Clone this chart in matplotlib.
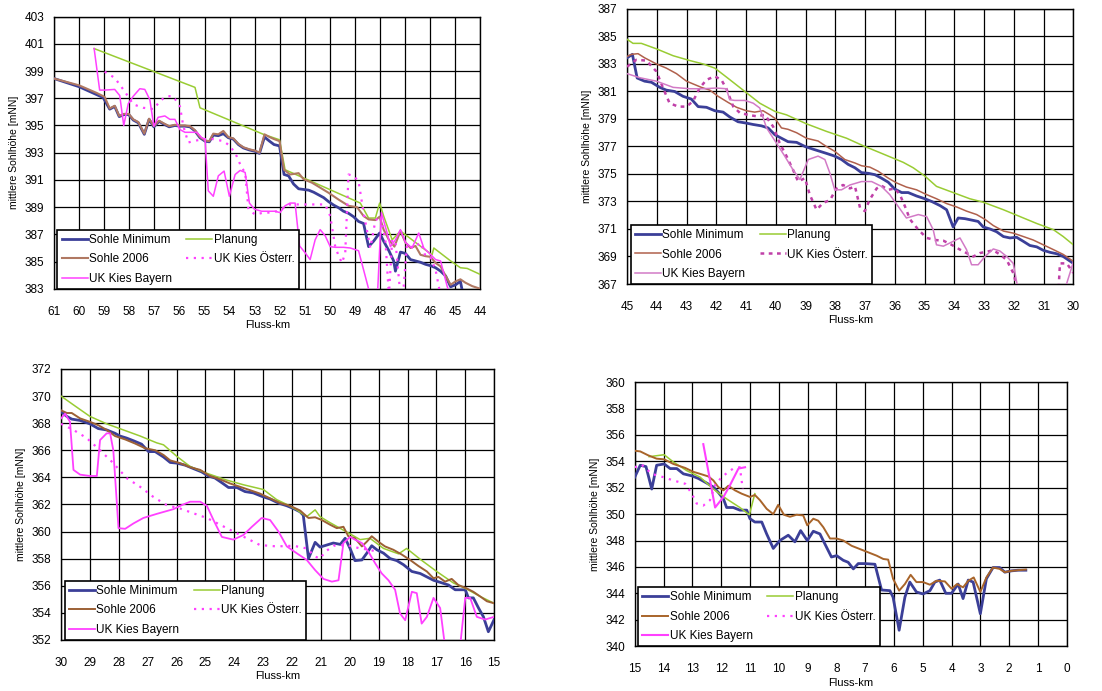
import matplotlib.pyplot as plt
import numpy as np
from matplotlib.lines import Line2D

plt.rcParams["font.family"] = ["Liberation Sans", "DejaVu Sans"]

# ---- Panel 1: km 61 - 44 ----
p1_min = [(61.0, 398.45), (60.0, 397.85), (59.04, 397.05), (58.78, 396.2), (58.58, 396.4),
          (58.40, 395.65), (58.22, 395.8), (58.02, 395.8), (57.84, 395.4), (57.64, 395.2),
          (57.40, 394.35), (57.21, 395.45), (57.02, 394.9), (56.81, 395.3), (56.62, 395.1),
          (56.41, 394.9), (56.18, 395.0), (55.98, 394.95), (55.78, 394.95), (55.58, 394.9),
          (55.38, 394.6), (55.18, 394.1), (54.98, 393.85), (54.81, 393.8), (54.65, 394.3),
          (54.45, 394.25), (54.25, 394.4), (54.05, 394.1), (53.85, 394.0), (53.65, 393.6),
          (53.45, 393.35), (53.21, 393.2), (52.98, 393.1), (52.81, 392.95), (52.61, 394.15),
          (52.41, 393.85), (52.23, 393.6), (52.01, 393.5), (51.83, 391.4), (51.65, 391.3),
          (51.45, 390.7), (51.25, 390.35), (51.05, 390.3), (50.85, 390.25), (50.65, 390.1),
          (50.45, 389.9), (50.25, 389.7), (50.05, 389.4), (49.85, 389.15), (49.65, 388.95),
          (49.46, 388.7), (49.26, 388.55), (49.06, 388.3), (48.86, 387.95), (48.66, 387.8),
          (48.46, 386.1), (48.26, 386.5), (48.02, 387.1), (47.86, 386.5), (47.65, 385.8),
          (47.46, 385.05), (47.39, 384.3), (47.19, 385.7), (46.99, 385.6), (46.79, 385.15),
          (46.59, 385.05), (46.39, 384.95), (46.19, 384.8), (45.99, 384.7), (45.79, 384.55),
          (45.59, 384.3), (45.39, 383.95), (45.19, 383.15), (44.99, 383.3), (44.80, 383.55),
          (44.73, 382.9)]
p1_2006 = [(61.0, 398.45), (60.0, 397.95), (59.31, 397.4), (58.98, 397.1), (58.78, 396.25),
           (58.58, 396.45), (58.40, 395.7), (58.22, 395.85), (58.02, 395.85), (57.84, 395.45),
           (57.64, 395.25), (57.40, 394.4), (57.21, 395.5), (57.02, 394.95), (56.81, 395.35),
           (56.62, 395.15), (56.41, 394.95), (56.18, 395.05), (55.98, 395.0), (55.78, 395.0),
           (55.58, 394.95), (55.38, 394.65), (55.18, 394.15), (54.98, 393.9), (54.81, 393.85),
           (54.65, 394.4), (54.45, 394.35), (54.25, 394.6), (54.05, 394.15), (53.85, 394.05),
           (53.65, 393.65), (53.45, 393.4), (53.21, 393.25), (52.98, 393.15), (52.81, 393.0),
           (52.61, 394.35), (52.41, 394.15), (52.23, 394.0), (52.01, 393.85), (51.83, 391.75),
           (51.59, 391.4), (51.25, 391.5), (51.05, 391.05), (50.72, 390.8), (50.45, 390.5),
           (50.05, 390.05), (49.65, 389.55), (49.26, 389.1), (48.92, 389.0), (48.66, 388.35),
           (48.46, 388.1), (48.19, 388.05), (48.02, 388.3), (47.86, 387.35), (47.65, 386.6),
           (47.43, 386.1), (47.19, 387.25), (46.99, 386.4), (46.79, 386.0), (46.59, 386.15),
           (46.39, 385.5), (46.19, 385.4), (45.99, 385.35), (45.79, 384.9), (45.59, 384.65),
           (45.39, 383.95), (45.19, 383.3), (44.99, 383.55), (44.80, 383.7), (44.60, 383.45),
           (44.33, 383.2), (44.0, 383.0)]
p1_plan = [(59.4, 400.65), (55.38, 397.8), (55.18, 396.3), (52.65, 394.35), (52.01, 393.95),
           (51.79, 391.75), (48.79, 389.3), (48.46, 388.2), (48.19, 388.2), (48.02, 389.3),
           (47.86, 388.35), (47.52, 386.6), (47.19, 387.25), (46.19, 385.85), (45.93, 385.5),
           (45.86, 386.0), (45.19, 385.05), (44.80, 384.55), (44.53, 384.5), (44.0, 384.05)]
p1_bay = [(59.4, 400.65), (59.18, 397.6), (58.98, 397.6), (58.58, 397.65), (58.38, 397.2),
          (58.22, 395.0), (58.04, 396.6), (57.84, 397.15), (57.58, 397.7), (57.38, 397.65),
          (57.18, 396.9), (57.02, 394.95), (56.85, 395.6), (56.58, 395.7), (56.38, 395.45),
          (56.18, 395.45), (55.98, 394.7), (55.78, 394.5), (55.51, 394.5), (55.31, 394.5),
          (55.11, 394.1), (54.98, 394.0), (54.85, 390.2), (54.65, 389.8), (54.45, 391.3),
          (54.22, 391.65), (54.01, 389.8), (53.78, 391.4), (53.58, 391.7), (53.38, 391.55),
          (53.21, 389.3), (53.01, 388.85), (52.72, 388.7), (52.45, 388.7), (52.19, 388.7),
          (51.99, 388.6), (51.79, 389.1), (51.59, 389.3), (51.39, 389.3), (51.21, 386.15),
          (50.99, 385.65), (50.79, 385.15), (50.59, 386.6), (50.39, 387.35), (50.19, 386.9),
          (49.99, 386.1), (49.79, 386.05), (49.46, 386.05), (49.19, 386.0), (48.86, 385.8),
          (48.66, 384.4), (48.46, 383.0), (48.35, 382.0), (48.12, 382.0), (47.95, 388.6),
          (47.72, 387.1), (47.59, 386.1), (47.39, 386.6), (47.19, 387.35), (46.99, 386.4),
          (46.73, 386.0), (46.46, 387.1), (46.26, 386.0), (46.06, 385.65), (45.79, 385.15),
          (45.59, 385.05), (45.33, 383.2), (45.2, 382.5)]
p1_oes = [(58.98, 398.95), (58.58, 398.5), (58.18, 397.5), (57.84, 396.55), (57.44, 396.3),
          (57.02, 396.2), (56.78, 396.8), (56.51, 397.15), (56.25, 397.15), (55.98, 396.4),
          (55.85, 395.0), (55.65, 393.75), (55.45, 393.85), (55.05, 394.0), (54.65, 394.0),
          (54.25, 393.85), (53.98, 393.5), (53.72, 392.75), (53.52, 391.9), (53.38, 391.55),
          (53.25, 388.85), (52.98, 388.45), (52.65, 388.6), (52.38, 388.6), (52.12, 388.7),
          (51.85, 388.95), (51.59, 389.2), (51.19, 389.2), (50.65, 389.2), (50.19, 389.2),
          (49.99, 388.35), (49.79, 386.1), (49.65, 385.4), (49.52, 384.9), (49.39, 385.65),
          (49.26, 391.4), (49.06, 391.3), (48.86, 390.9), (48.66, 388.6), (48.39, 386.0),
          (48.19, 388.0), (47.99, 388.35), (47.79, 386.6), (47.65, 382.5), (47.52, 386.6),
          (47.39, 386.5), (47.19, 382.5), (47.06, 383.2), (46.93, 386.25), (46.66, 386.0),
          (46.39, 386.4), (46.19, 385.4), (45.99, 385.3), (45.79, 384.4), (45.59, 382.5)]

# ---- Panel 2: km 45 - 30 ----
p2_min = [(45.0, 383.45), (44.82, 383.7), (44.66, 381.98), (44.41, 381.75), (44.18, 381.67),
          (43.90, 381.3), (43.68, 381.1), (43.40, 381.0), (43.12, 380.65), (42.84, 380.45),
          (42.61, 379.9), (42.33, 379.85), (42.05, 379.6), (41.77, 379.5), (41.55, 379.15),
          (41.27, 378.8), (40.99, 378.7), (40.76, 378.6), (40.48, 378.5), (40.26, 378.35),
          (40.03, 377.85), (39.81, 377.6), (39.59, 377.35), (39.30, 377.3), (39.02, 377.0),
          (38.74, 376.8), (38.52, 376.65), (38.30, 376.5), (38.02, 376.3), (37.79, 376.05),
          (37.57, 375.7), (37.34, 375.45), (37.12, 375.1), (36.89, 375.05), (36.67, 374.95),
          (36.45, 374.7), (36.22, 374.4), (36.00, 373.9), (35.77, 373.65), (35.55, 373.65),
          (35.27, 373.4), (34.99, 373.2), (34.76, 373.0), (34.48, 372.7), (34.26, 372.4),
          (34.04, 371.15), (33.87, 371.8), (33.64, 371.75), (33.42, 371.65), (33.20, 371.55),
          (33.03, 371.15), (32.80, 371.0), (32.58, 370.8), (32.35, 370.45), (32.13, 370.35),
          (31.91, 370.4), (31.68, 370.1), (31.46, 369.8), (31.23, 369.7), (31.01, 369.45),
          (30.78, 369.3), (30.56, 369.2), (30.34, 369.0), (30.17, 368.75), (30.0, 368.5)]
p2_2006 = [(45.0, 383.55), (44.85, 383.7), (44.63, 383.75), (44.41, 383.45), (44.01, 383.0),
           (43.68, 382.7), (43.34, 382.3), (43.00, 381.75), (42.78, 381.55), (42.50, 381.3),
           (42.22, 381.1), (41.94, 380.65), (41.60, 380.2), (41.32, 379.85), (40.99, 379.6),
           (40.71, 379.5), (40.43, 379.6), (40.20, 379.3), (40.03, 379.05), (39.81, 378.35),
           (39.59, 378.25), (39.30, 378.0), (38.97, 377.6), (38.58, 377.4), (38.30, 377.0),
           (38.02, 376.65), (37.68, 376.05), (37.34, 375.8), (37.12, 375.6), (36.84, 375.5),
           (36.56, 375.2), (36.22, 374.7), (35.94, 374.35), (35.61, 374.05), (35.27, 373.85),
           (34.93, 373.5), (34.60, 373.2), (34.26, 372.85), (33.92, 372.6), (33.59, 372.3),
           (33.25, 372.05), (32.97, 371.7), (32.69, 371.25), (32.35, 370.85), (32.02, 370.7),
           (31.68, 370.45), (31.35, 370.2), (31.01, 369.85), (30.67, 369.5), (30.34, 369.15),
           (30.0, 368.65)]
p2_plan = [(45.0, 384.8), (44.80, 384.5), (44.52, 384.5), (44.01, 384.1), (43.45, 383.6),
           (42.89, 383.25), (42.44, 383.0), (42.05, 382.7), (41.66, 382.05), (41.04, 381.0),
           (40.54, 380.15), (40.03, 379.55), (39.64, 379.3), (38.97, 378.65), (38.30, 378.1),
           (37.62, 377.6), (37.06, 377.05), (36.50, 376.55), (35.72, 375.85), (35.38, 375.45),
           (34.99, 374.85), (34.60, 374.1), (34.04, 373.65), (33.48, 373.2), (33.03, 372.95),
           (32.35, 372.4), (31.79, 371.9), (31.23, 371.4), (30.67, 370.95), (30.34, 370.45),
           (30.0, 369.85)]
p2_bay = [(45.0, 382.3), (44.57, 382.0), (44.01, 381.75), (43.45, 381.3), (42.89, 381.2),
          (42.44, 381.2), (42.00, 381.25), (41.66, 381.2), (41.55, 380.4), (41.38, 380.35),
          (41.04, 380.35), (40.76, 380.15), (40.54, 379.8), (40.31, 378.35), (39.98, 377.25),
          (39.70, 376.3), (39.42, 375.3), (39.19, 374.6), (38.91, 376.05), (38.58, 376.3),
          (38.35, 376.05), (38.18, 375.05), (38.02, 373.85), (37.79, 373.85), (37.51, 374.2),
          (37.12, 374.45), (36.78, 374.45), (36.45, 374.1), (36.17, 373.5), (35.89, 372.65),
          (35.61, 371.8), (35.21, 372.05), (34.93, 371.9), (34.71, 370.95), (34.60, 369.85),
          (34.37, 369.75), (34.04, 370.1), (33.81, 370.35), (33.59, 369.5), (33.42, 368.4),
          (33.20, 368.4), (32.97, 369.0), (32.69, 369.55), (32.47, 369.4), (32.24, 369.0),
          (32.02, 368.5), (31.85, 366.5), (30.3, 366.5), (30.0, 368.6)]
p2_oes = [(45.0, 382.8), (44.69, 383.3), (44.35, 383.25), (44.01, 382.45), (43.79, 381.25),
          (43.57, 380.15), (43.28, 379.9), (43.00, 379.9), (42.78, 380.3), (42.56, 381.25),
          (42.33, 381.85), (42.05, 382.1), (41.83, 381.85), (41.66, 381.2), (41.43, 379.9),
          (41.21, 379.45), (40.93, 379.3), (40.65, 379.2), (40.37, 379.3), (40.09, 378.45),
          (39.87, 377.25), (39.64, 376.3), (39.42, 375.3), (39.25, 374.45), (39.02, 374.7),
          (38.86, 373.5), (38.63, 372.4), (38.41, 372.9), (38.18, 373.1), (37.96, 373.95),
          (37.74, 374.2), (37.51, 373.95), (37.34, 374.1), (37.17, 372.55), (37.01, 372.3),
          (36.84, 373.15), (36.61, 373.95), (36.45, 374.15), (36.22, 373.85), (36.00, 373.95),
          (35.83, 373.5), (35.66, 372.65), (35.49, 371.7), (35.21, 370.95), (34.93, 370.35),
          (34.65, 370.2), (34.37, 370.15), (34.09, 369.85), (33.81, 369.5), (33.59, 369.25),
          (33.36, 369.0), (33.14, 369.25), (32.91, 369.35), (32.69, 369.45), (32.47, 369.15),
          (32.24, 368.75), (32.02, 367.8), (31.85, 366.5), (30.5, 366.5), (30.45, 368.5),
          (30.22, 368.5), (30.0, 367.8)]

# ---- Panel 3: km 30 - 15 ----
p3_min = [(30.0, 368.85), (29.80, 368.5), (29.63, 368.3), (29.34, 368.2), (29.0, 367.95),
          (28.71, 367.6), (28.42, 367.5), (28.13, 367.25), (27.96, 367.05), (27.73, 366.9),
          (27.49, 366.7), (27.21, 366.45), (26.97, 365.9), (26.74, 365.9), (26.45, 365.5),
          (26.22, 365.1), (25.99, 365.05), (25.70, 364.9), (25.42, 364.65), (25.13, 364.4),
          (24.90, 364.1), (24.67, 363.95), (24.43, 363.6), (24.20, 363.25), (23.91, 363.25),
          (23.63, 362.95), (23.34, 362.85), (23.05, 362.6), (22.76, 362.4), (22.47, 362.1),
          (22.18, 361.9), (21.95, 361.7), (21.72, 361.45), (21.61, 361.2), (21.43, 358.0),
          (21.20, 359.2), (21.03, 358.85), (20.80, 359.0), (20.57, 359.15), (20.33, 359.05),
          (20.16, 359.5), (19.99, 358.75), (19.82, 357.85), (19.58, 357.9), (19.41, 358.4),
          (19.24, 358.95), (19.06, 358.65), (18.83, 358.4), (18.60, 358.0), (18.37, 357.85),
          (18.14, 357.55), (17.85, 357.05), (17.56, 356.9), (17.33, 356.65), (17.10, 356.4),
          (16.87, 356.25), (16.58, 356.05), (16.35, 355.7), (16.0, 355.7), (15.89, 355.1),
          (15.72, 355.1), (15.54, 354.35), (15.37, 353.7), (15.20, 352.6), (15.0, 353.5)]
p3_2006 = [(30.0, 368.95), (29.80, 368.75), (29.63, 368.75), (29.34, 368.35), (29.0, 368.1),
           (28.71, 367.85), (28.42, 367.5), (28.13, 367.05), (27.78, 366.8), (27.44, 366.5),
           (27.09, 366.15), (26.74, 366.0), (26.45, 365.65), (26.22, 365.25), (25.88, 365.05),
           (25.53, 364.75), (25.18, 364.55), (24.84, 364.1), (24.49, 363.85), (24.15, 363.55),
           (23.80, 363.3), (23.45, 363.05), (23.11, 362.8), (22.76, 362.45), (22.41, 362.1),
           (22.07, 361.9), (21.72, 361.55), (21.43, 361.0), (21.20, 361.05), (20.97, 360.85),
           (20.68, 360.5), (20.45, 360.25), (20.22, 360.35), (20.05, 359.65), (19.82, 359.5),
           (19.58, 358.9), (19.41, 359.25), (19.24, 359.65), (19.01, 359.25), (18.78, 358.9),
           (18.49, 358.65), (18.20, 358.3), (17.91, 357.9), (17.62, 357.45), (17.33, 357.05),
           (17.10, 356.55), (16.93, 356.65), (16.70, 356.3), (16.47, 356.5), (16.24, 356.05),
           (15.95, 355.8), (15.72, 355.55), (15.48, 355.2), (15.25, 354.85), (15.0, 354.7)]
p3_plan = [(30.0, 370.0), (29.57, 369.35), (29.0, 368.5), (28.42, 367.95), (27.84, 367.5),
           (27.26, 367.05), (26.69, 366.55), (26.45, 366.4), (25.99, 365.55), (25.53, 364.8),
           (24.95, 364.3), (24.27, 363.8), (23.68, 363.45), (22.99, 363.1), (22.53, 362.35),
           (22.18, 362.0), (21.84, 361.6), (21.49, 361.1), (21.20, 361.6), (21.03, 361.1),
           (20.68, 360.65), (20.22, 360.1), (19.64, 359.4), (19.30, 359.5), (18.83, 358.75),
           (18.31, 358.35), (18.03, 358.75), (17.56, 357.95), (16.99, 357.05), (16.41, 356.2),
           (15.95, 355.75), (15.48, 355.2), (15.0, 354.7)]
p3_bay = [(30.0, 368.35), (29.86, 368.7), (29.69, 368.1), (29.57, 364.55), (29.34, 364.2),
          (29.0, 364.1), (28.76, 364.1), (28.65, 366.75), (28.42, 367.25), (28.30, 367.25),
          (28.19, 366.0), (28.01, 360.25), (27.78, 360.2), (27.49, 360.6), (27.15, 361.0),
          (26.69, 361.3), (26.11, 361.65), (25.82, 361.95), (25.53, 362.2), (25.18, 362.2),
          (24.95, 361.9), (24.72, 360.85), (24.43, 359.6), (24.03, 359.4), (23.68, 359.75),
          (23.39, 360.35), (23.05, 361.0), (22.76, 360.85), (22.47, 360.0), (22.18, 358.9),
          (21.84, 358.4), (21.49, 357.9), (21.20, 357.15), (20.91, 356.5), (20.62, 356.3),
          (20.39, 356.4), (20.22, 359.15), (19.99, 359.6), (19.82, 359.4), (19.58, 359.15),
          (19.35, 358.5), (19.12, 357.65), (18.89, 356.9), (18.66, 356.4), (18.43, 355.7),
          (18.26, 353.95), (18.08, 353.45), (17.85, 355.55), (17.68, 355.45), (17.51, 353.2),
          (17.33, 353.7), (17.10, 355.1), (16.87, 354.35), (16.70, 351.5), (16.18, 351.5),
          (16.0, 355.1), (15.83, 355.1), (15.60, 353.7), (15.31, 353.5), (15.0, 353.7)]
p3_oes = [(30.0, 367.95), (29.57, 367.5), (29.11, 366.9), (28.65, 366.0), (28.19, 365.05),
          (27.73, 363.95), (27.26, 363.3), (26.80, 362.55), (26.34, 361.95), (25.88, 361.7),
          (25.42, 361.35), (24.95, 361.0), (24.49, 360.5), (24.03, 360.0), (23.57, 359.5),
          (23.11, 359.0), (22.53, 358.9), (21.95, 358.95), (21.49, 358.75), (21.20, 358.15),
          (21.03, 358.0), (20.85, 358.5), (20.57, 358.95), (20.10, 359.0), (19.64, 358.75),
          (19.30, 358.65), (19.06, 358.5)]

# ---- Panel 4: km 15 - 0 ----
p4_min = [(15.0, 352.8), (14.81, 353.7), (14.61, 353.6), (14.41, 351.9), (14.24, 353.7),
          (13.98, 353.8), (13.77, 353.45), (13.54, 353.45), (13.31, 353.05), (13.02, 352.9),
          (12.79, 352.7), (12.50, 352.35), (12.27, 352.05), (12.10, 351.65), (11.92, 351.15),
          (11.81, 350.5), (11.58, 350.5), (11.35, 350.3), (11.11, 350.3), (11.0, 349.65),
          (10.83, 349.4), (10.59, 349.4), (10.42, 348.5), (10.19, 347.4), (9.96, 348.0),
          (9.67, 348.4), (9.44, 347.9), (9.24, 348.75), (9.01, 348.0), (8.80, 348.7),
          (8.57, 348.5), (8.40, 347.75), (8.17, 346.75), (7.99, 346.85), (7.76, 346.5),
          (7.59, 346.35), (7.41, 345.85), (7.24, 346.25), (7.01, 346.25), (6.66, 346.2),
          (6.43, 344.25), (6.14, 344.2), (6.03, 343.7), (5.82, 341.2), (5.62, 343.7),
          (5.45, 344.85), (5.22, 344.1), (4.99, 343.95), (4.75, 344.2), (4.58, 344.85),
          (4.41, 345.0), (4.20, 344.0), (4.0, 344.0), (3.77, 344.7), (3.60, 343.6),
          (3.42, 345.0), (3.25, 344.85), (3.0, 342.45), (2.79, 345.1), (2.56, 345.95),
          (2.33, 345.95), (2.15, 345.6), (1.92, 345.7), (1.69, 345.75), (1.42, 345.75)]
p4_2006 = [(15.0, 354.8), (14.81, 354.75), (14.53, 354.45), (14.24, 354.2), (13.98, 354.15),
           (13.66, 353.8), (13.25, 353.5), (12.96, 353.2), (12.73, 353.05), (12.44, 352.85),
           (12.27, 352.55), (12.10, 352.05), (11.92, 351.8), (11.75, 352.15), (11.52, 351.8),
           (11.29, 351.55), (11.0, 351.3), (10.83, 351.45), (10.65, 351.05), (10.42, 350.4),
           (10.19, 350.0), (10.02, 350.7), (9.82, 349.95), (9.61, 349.8), (9.38, 349.95),
           (9.15, 349.9), (9.01, 349.15), (8.80, 349.65), (8.63, 349.5), (8.45, 349.0),
           (8.22, 348.15), (7.99, 348.15), (7.76, 348.0), (7.47, 347.6), (7.18, 347.35),
           (6.89, 347.1), (6.60, 346.85), (6.37, 346.6), (6.20, 346.55), (6.03, 345.1),
           (5.82, 344.2), (5.62, 344.7), (5.42, 345.4), (5.22, 344.85), (4.99, 344.85),
           (4.75, 344.65), (4.52, 344.95), (4.23, 344.9), (4.0, 344.35), (3.81, 344.7),
           (3.60, 344.45), (3.42, 344.95), (3.23, 345.2), (3.0, 344.1), (2.79, 345.2),
           (2.56, 345.95), (2.33, 345.85), (2.15, 345.6), (1.92, 345.7), (1.69, 345.75),
           (1.42, 345.8)]
p4_plan = [(14.5, 354.35), (13.98, 354.5), (13.66, 353.95), (13.20, 353.3), (12.73, 352.8),
           (12.27, 351.9), (11.81, 351.15), (11.35, 350.5), (11.02, 349.95), (10.83, 351.55)]
p4_bay = [(12.62, 355.3), (12.21, 350.5), (11.92, 351.3), (11.69, 352.2), (11.40, 353.45),
          (11.17, 353.55)]
p4_oes = [(15.0, 353.55), (14.76, 353.75), (14.41, 353.05), (14.01, 352.8), (13.66, 352.55),
          (13.25, 352.3), (13.02, 351.55), (12.85, 350.8), (12.62, 350.65), (12.39, 351.05),
          (12.21, 352.2), (11.98, 352.8), (11.75, 353.2), (11.58, 353.45), (11.35, 353.55),
          (11.25, 351.9)]

labels = ["Sohle Minimum", "Sohle 2006", "UK Kies Bayern", "Planung", "UK Kies Österr."]

# styles per panel (colours differ slightly between the four exports)
style_a = {
    "Sohle Minimum": dict(color="#3b3f98", lw=2.0, ls="-"),
    "Sohle 2006": dict(color="#b07862", lw=1.5, ls="-"),
    "UK Kies Bayern": dict(color="#ff40ff", lw=1.1, ls="-"),
    "Planung": dict(color="#99cc33", lw=1.1, ls="-"),
    "UK Kies Österr.": dict(color="#ff40ff", lw=1.6, ls=(0, (1, 2.5))),
}
style_b = {
    "Sohle Minimum": dict(color="#3b3f98", lw=2.0, ls="-"),
    "Sohle 2006": dict(color="#b0604c", lw=1.1, ls="-"),
    "UK Kies Bayern": dict(color="#d27ac6", lw=1.1, ls="-"),
    "Planung": dict(color="#99cc33", lw=1.1, ls="-"),
    "UK Kies Österr.": dict(color="#c040a8", lw=1.8, ls=(0, (1.5, 1.8))),
}
style_c = dict(style_a)
style_c["Sohle 2006"] = dict(color="#9c6035", lw=1.4, ls="-")
style_c["UK Kies Bayern"] = dict(color="#ff40ff", lw=1.3, ls="-")
style_d = dict(style_a)
style_d["Sohle 2006"] = dict(color="#a8642a", lw=1.4, ls="-")
style_d["UK Kies Bayern"] = dict(color="#ff40ff", lw=1.5, ls="-")

panels = [
    dict(rect=[0.049, 0.582, 0.387, 0.394], xlim=(61, 44), ylim=(383, 403), style=style_a,
         data={"Sohle Minimum": p1_min, "Sohle 2006": p1_2006, "Planung": p1_plan,
               "UK Kies Österr.": p1_oes, "UK Kies Bayern": p1_bay}),
    dict(rect=[0.569, 0.589, 0.405, 0.398], xlim=(45, 30), ylim=(367, 387), style=style_b,
         data={"Sohle Minimum": p2_min, "Sohle 2006": p2_2006, "Planung": p2_plan,
               "UK Kies Österr.": p2_oes, "UK Kies Bayern": p2_bay}),
    dict(rect=[0.0554, 0.074, 0.393, 0.392], xlim=(30, 15), ylim=(352, 372), style=style_c,
         data={"Sohle Minimum": p3_min, "Sohle 2006": p3_2006, "Planung": p3_plan,
               "UK Kies Österr.": p3_oes, "UK Kies Bayern": p3_bay}),
    dict(rect=[0.576, 0.065, 0.392, 0.382], xlim=(15, 0), ylim=(340, 360), style=style_d,
         data={"Sohle Minimum": p4_min, "Sohle 2006": p4_2006, "Planung": p4_plan,
               "UK Kies Österr.": p4_oes, "UK Kies Bayern": p4_bay}),
]

fig = plt.figure(figsize=(11.02, 6.91), dpi=100)

for p in panels:
    ax = fig.add_axes(p["rect"])
    for name in ["Sohle Minimum", "Planung", "Sohle 2006", "UK Kies Österr.", "UK Kies Bayern"]:
        pts = np.array(p["data"][name])
        st = p["style"][name]
        ax.plot(pts[:, 0], pts[:, 1], color=st["color"], lw=st["lw"], linestyle=st["ls"],
                zorder=3)

    x0, x1 = p["xlim"]
    y0, y1 = p["ylim"]
    ax.set_xlim(x0, x1)
    ax.set_ylim(y0, y1)
    ax.set_xticks(np.arange(x1, x0 + 1, 1))
    ax.set_yticks(np.arange(y0, y1 + 1, 2))
    ax.grid(True, color="black", lw=0.9, zorder=1)
    ax.set_axisbelow(True)
    ax.tick_params(length=0, labelsize=8.5)
    ax.tick_params(axis="x", pad=12)
    ax.tick_params(axis="y", pad=7)
    for s in ax.spines.values():
        s.set_color("black")
        s.set_linewidth(1.0)
    ax.set_xlabel("Fluss-km", fontsize=8, labelpad=2)
    ax.set_ylabel("mittlere Sohlhöhe [mNN]", fontsize=7.5, labelpad=4)

    handles = [Line2D([], [], color=p["style"][n]["color"], lw=p["style"][n]["lw"],
                      linestyle=p["style"][n]["ls"]) for n in labels]
    leg = ax.legend(handles, labels, ncol=2, loc="lower left", bbox_to_anchor=(0.008, 0.0),
                    borderaxespad=0.0, fontsize=8.5, frameon=True, fancybox=False,
                    framealpha=1.0, edgecolor="black", handlelength=2.2,
                    handletextpad=0.15, columnspacing=1.2, labelspacing=0.62,
                    borderpad=0.35)
    leg.get_frame().set_linewidth(1.2)
    leg.set_zorder(5)

fig.savefig("out.png", dpi=100)
